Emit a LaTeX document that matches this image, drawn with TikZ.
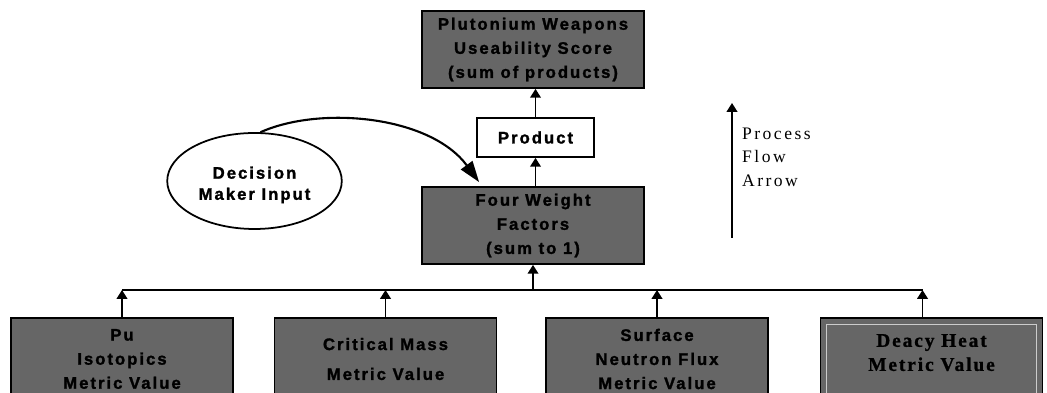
\documentclass[tikz,border=0pt]{standalone}
\usepackage{fontspec}
\setmainfont{Liberation Serif}
\newfontfamily\blksf[LetterSpace=12,BoldFeatures={FakeBold=1.5}]{Liberation Sans}
\newfontfamily\blkrm[LetterSpace=10,BoldFeatures={FakeBold=1}]{Liberation Serif}
\newfontfamily\flowrm[LetterSpace=14]{Liberation Serif}
\usetikzlibrary{arrows.meta,shapes.geometric,positioning,calc}

\begin{document}
\begin{tikzpicture}[
    blk/.style={draw, line width=1pt, fill=black!60, minimum width=4.44cm, minimum height=1.54cm, align=center, font=\blksf\bfseries\fontsize{9.5}{13.7}\selectfont},
    wbox/.style={draw, line width=1pt, fill=white, minimum width=2.34cm, minimum height=0.78cm, font=\blksf\bfseries\fontsize{9.5}{13.7}\selectfont},
    oval/.style={draw, ellipse, line width=1pt, minimum width=3.26cm, minimum height=1.92cm, align=center, font=\blksf\bfseries\fontsize{9.5}{12}\selectfont},
    metric/.style={blk, minimum height=1.64cm},
    arr/.style={-{Triangle[length=5pt,width=6pt]}, line width=1pt},
    bigarr/.style={-{Triangle[length=12pt,width=8pt]}, line width=1.2pt}
]
\useasboundingbox (0,0) rectangle (20.94,7.86);
\clip (0,0) rectangle (20.94,7.86);

\node[blk] (score) at (10.66,6.87) {Plutonium Weapons\\Useability Score\\(sum of products)};
\node[wbox] (prod) at (10.71,5.11) {Product};
\node[blk] (wts) at (10.66,3.35) {Four Weight\\Factors\\(sum to 1)};
\node[oval, text height=0.82cm] (dmi) at (5.09,4.24) {Decision\\Maker Input};

\node[metric] (pu) at (2.44,0.68) {Pu\\Isotopics\\Metric Value};
\node[metric, font=\blksf\bfseries\fontsize{9.5}{17}\selectfont] (cm) at (7.71,0.68) {Critical Mass\\Metric Value};
\node[metric] (snf) at (13.14,0.68) {Surface\\Neutron Flux\\Metric Value};
\node[metric, text depth=0.26cm, font=\blkrm\bfseries\fontsize{11}{13.7}\selectfont] (dec) at (18.63,0.68) {Deacy Heat\\Metric Value};
\draw[white!80!black, line width=0.4pt] ($(dec.north west)+(0.14,-0.14)$) rectangle ($(dec.south east)+(-0.14,0.14)$);

% bus between the metric values and the weights
\coordinate (busc) at (10.66,2.06);
\coordinate (decin) at ([xshift=-0.18cm]dec.north);
\draw[line width=1pt] (busc -| pu.north) -- (busc -| decin);
\draw[arr] (pu.north) -- (busc -| pu.north);
\draw[arr] (cm.north) -- (busc -| cm.north);
\draw[arr] (snf.north) -- (busc -| snf.north);
\draw[arr] (decin) -- (busc -| decin);
\draw[arr] (busc) -- (wts.south);

\draw[arr] (wts.north -| prod.south) -- (prod.south);
\draw[arr] (prod.north) -- (prod.north |- score.south);

\coordinate (dmitip) at ($(wts.north west)+(1.16,0.08)$);
\draw[bigarr] (dmi.83) .. controls (6.4,5.75) and (8.6,5.55) .. (dmitip);

% process flow legend
\coordinate (pfbot) at (14.64,3.10);
\coordinate (pftop) at (14.64,5.80);
\coordinate (pfmid) at (14.64,4.72);
\draw[arr] (pfbot) -- (pftop);
\node[right=0.08cm of pfmid, align=left, font=\flowrm\fontsize{10}{13.3}\selectfont] (pflbl) {Process\\Flow\\Arrow};
\end{tikzpicture}
\end{document}
